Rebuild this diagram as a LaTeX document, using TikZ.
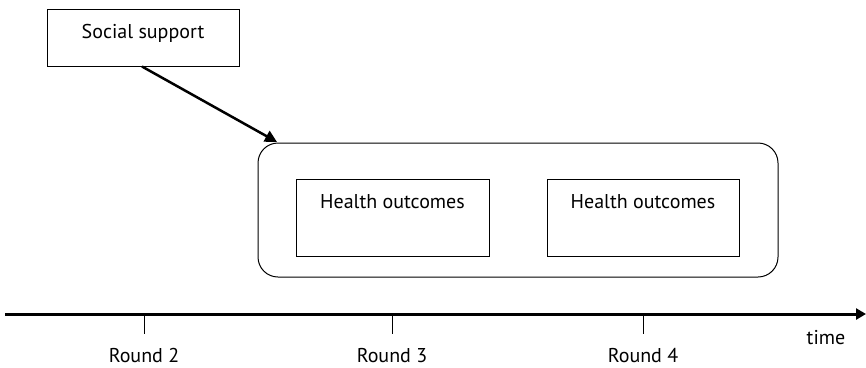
\documentclass[tikz,border=0pt]{standalone}
\usepackage{fontspec}
\setmainfont{PT Sans}
\usetikzlibrary{arrows.meta}
\begin{document}
\begin{tikzpicture}[x=1pt,y=-1pt,
  box/.style={draw,line width=1pt,inner sep=0pt},
  lbl/.style={font=\fontsize{20}{24}\selectfont,inner sep=0pt,anchor=base},
]
\useasboundingbox (0,0) rectangle (866,367);
\node[box,minimum width=192pt,minimum height=57pt] (soc) at (143,37.5) {};
\node[lbl] (soct) at (143,38.5) {Social support};
\node[draw,line width=1pt,rounded corners=20pt,minimum width=520pt,minimum height=134pt] (grp) at (518,210) {};
\node[box,minimum width=193pt,minimum height=77pt] (h1) at (392.5,217.5) {};
\node[lbl] at (392.5,208) {Health outcomes};
\node[box,minimum width=192pt,minimum height=77pt] (h2) at (643,217.5) {};
\node[lbl] at (643,208) {Health outcomes};
\coordinate (tip) at (277,142);
\draw[line width=2.5pt,-{Triangle[length=12pt,width=12pt]}] (soc.south) ++(-1,0) -- (tip);
\coordinate (ts) at (5,314);
\coordinate (te) at (866,314);
\draw[line width=3pt,-{Triangle[length=10pt,width=11pt]}] (ts) -- (te);
\foreach \x/\r in {144/2,392/3,643/4}{
  \draw[line width=1pt] (\x,314) -- (\x,334);
  \node[lbl] at (\x,362) {Round \r};
}
\node[lbl] at (826,344) {time};
\end{tikzpicture}
\end{document}
